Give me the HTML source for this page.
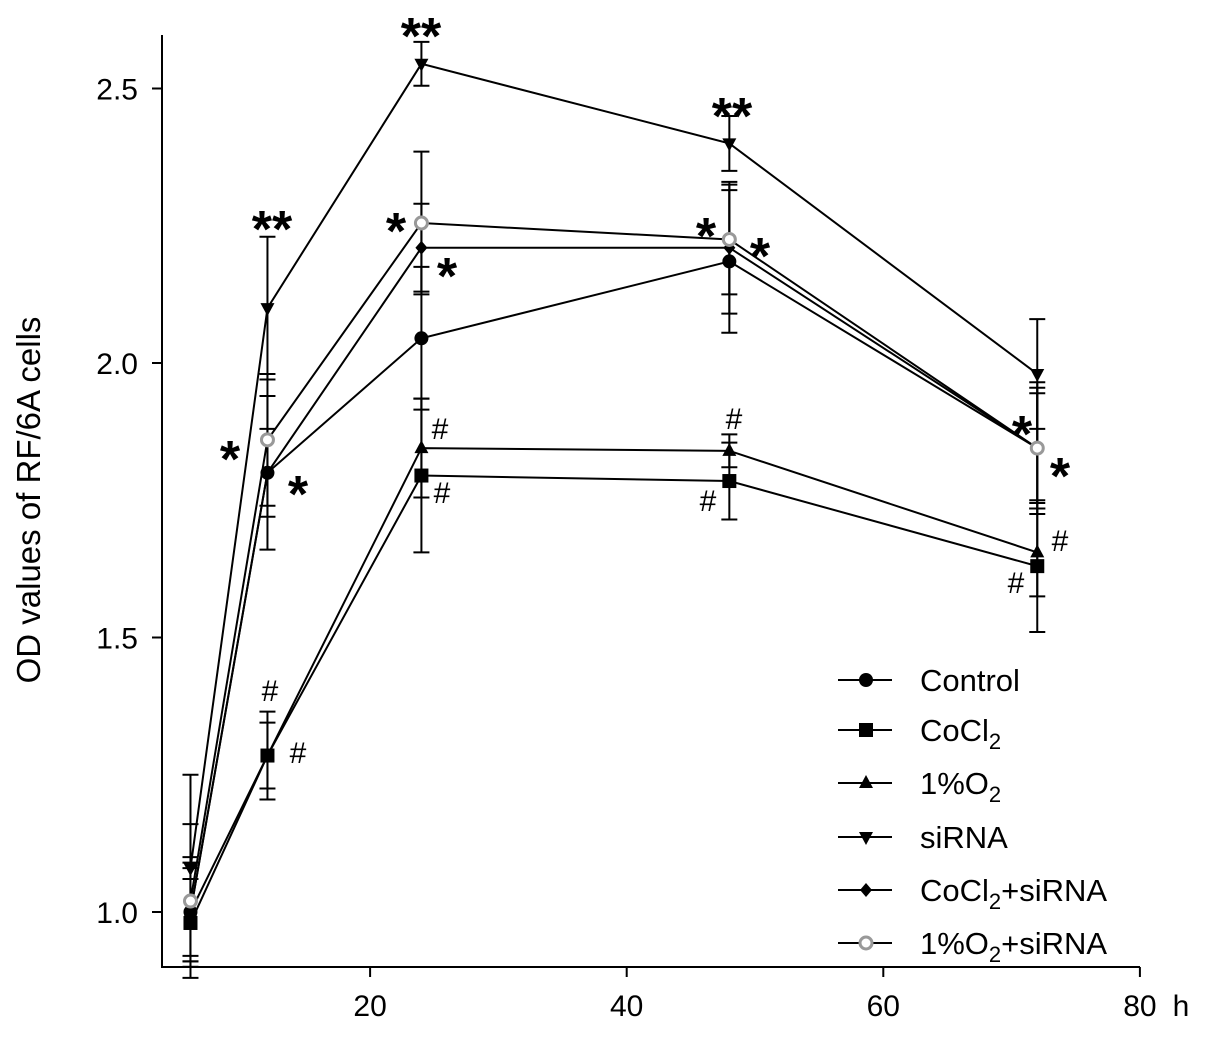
<!DOCTYPE html>
<html><head><meta charset="utf-8"><style>
body{margin:0;background:#fff;}
svg text{font-family:"Liberation Sans",sans-serif;}
</style></head><body>
<svg id="chart" width="1205" height="1036" viewBox="0 0 1205 1036">
<g id="axes"></g><g id="series"></g><g id="annot"></g><g id="legend"></g>
<text x="40" y="500" font-size="33" text-anchor="middle" transform="rotate(-90 40 500)">OD values of RF/6A cells</text>
<text x="1181" y="1016" font-size="30" text-anchor="middle">h</text>
</svg>
<script>
const hours = [6, 12, 24, 48, 72];
const seriesNames = ["Control", "CoCl2", "1%O2", "siRNA", "CoCl2+siRNA", "1%O2+siRNA"];
const controlVals = [1.00, 1.80, 2.045, 2.185, 1.845];
const cocl2Vals = [0.98, 1.285, 1.795, 1.785, 1.63];
const o2Vals = [1.00, 1.285, 1.845, 1.84, 1.655];
const sirnaVals = [1.08, 2.10, 2.545, 2.40, 1.98];
const cocl2SiVals = [1.00, 1.80, 2.21, 2.21, 1.845];
const o2SiVals = [1.02, 1.86, 2.255, 2.225, 1.845];
const controlErr = [0.09, 0.14, 0.13, 0.13, 0.10];
const cocl2Err = [0.08, 0.06, 0.14, 0.07, 0.12];
const o2Err = [0.08, 0.08, 0.09, 0.03, 0.08];
const sirnaErr = [0.17, 0.13, 0.04, 0.05, 0.10];
const cocl2SiErr = [0.10, 0.08, 0.08, 0.12, 0.11];
const o2SiErr = [0.14, 0.12, 0.13, 0.10, 0.12];
const xTicks = [20, 40, 60, 80];
const yTicks = [1.0, 1.5, 2.0, 2.5];

const NS = "http://www.w3.org/2000/svg";
const xs = v => 113.5 + v * 12.83;
const ys = v => 912 - (v - 1.0) * 549;
function mk(tag, attrs, parent){const e=document.createElementNS(NS,tag);for(const k in attrs)e.setAttribute(k,attrs[k]);parent.appendChild(e);return e;}
const axes=document.getElementById('axes');
const sg=document.getElementById('series');
const ann=document.getElementById('annot');
const lg=document.getElementById('legend');

let a=mk('line',{x1:162,y1:35,x2:162,y2:967,stroke:'#000','stroke-width':2},axes);


a=mk('line',{x1:161,y1:967,x2:1140,y2:967,stroke:'#000','stroke-width':2},axes);


yTicks.forEach(t=>{
  const y=ys(t);
  const l=mk('line',{x1:152,y1:y,x2:162,y2:y,stroke:'#000','stroke-width':2},axes);
  
  
  const tx=mk('text',{x:138,y:y+11,'font-size':30,'text-anchor':'end'},axes);
  tx.textContent=t.toFixed(1);
  
  
});
xTicks.forEach(t=>{
  const x=xs(t);
  const l=mk('line',{x1:x,y1:967,x2:x,y2:977,stroke:'#000','stroke-width':2},axes);
  
  
  const tx=mk('text',{x:x,y:1016,'font-size':30,'text-anchor':'middle'},axes);
  tx.textContent=t;
  
  
});

const allVals=[controlVals,cocl2Vals,o2Vals,sirnaVals,cocl2SiVals,o2SiVals];
const allErr=[controlErr,cocl2Err,o2Err,sirnaErr,cocl2SiErr,o2SiErr];
const markers=['circle','square','tri','tridown','diamond','ring'];
function marker(type,x,y,g){
  let e;
  if(type==='circle') e=mk('circle',{cx:x,cy:y,r:7,fill:'#000'},g);
  else if(type==='square') e=mk('rect',{x:x-7,y:y-7,width:14,height:14,fill:'#000'},g);
  else if(type==='tri') e=mk('polygon',{points:`${x},${y-8} ${x-7},${y+5} ${x+7},${y+5}`,fill:'#000'},g);
  else if(type==='tridown') e=mk('polygon',{points:`${x},${y+8} ${x-7},${y-5} ${x+7},${y-5}`,fill:'#000'},g);
  else if(type==='diamond') e=mk('polygon',{points:`${x},${y-7} ${x+6},${y} ${x},${y+7} ${x-6},${y}`,fill:'#000'},g);
  else e=mk('circle',{cx:x,cy:y,r:6,fill:'#fff',stroke:'#999','stroke-width':3},g);
  return e;
}
allVals.forEach((vals,si)=>{
  const g=mk('g',{},sg);
  
  
  const pts=vals.map((v,i)=>xs(hours[i])+','+ys(v)).join(' ');
  const pl=mk('polyline',{points:pts,fill:'none',stroke:'#000','stroke-width':2},g);
  
  
  vals.forEach((v,i)=>{
    const x=xs(hours[i]),e=allErr[si][i];
    const y1=ys(v+e),y2=ys(v-e);
    const eb=mk('path',{d:`M${x},${y1}V${y2}M${x-8},${y1}H${x+8}M${x-8},${y2}H${x+8}`,stroke:'#000','stroke-width':2,fill:'none'},g);
    
    
  });
  vals.forEach((v,i)=>{
    const m=marker(markers[si],xs(hours[i]),ys(v),g);
    
    
  });
});

// annotations: [text, centerX, centerY, size]
const annots=[
 ['**',272,215,52],['**',421,22,52],['**',732,102,52],
 ['*',230,445,52],['*',298,480,52],['*',396,217,52],['*',447,262,52],
 ['*',706,222,52],['*',760,242,52],['*',1022,420,52],['*',1060,462,52],
 ['#',270,690,30],['#',298,752,30],['#',440,428,30],['#',442,492,30],
 ['#',734,418,30],['#',708,500,30],['#',1060,540,30],['#',1016,582,30]
];
annots.forEach(([t,x,y,s])=>{
  const off = t==='#' ? 0.36*s : 0.62*s;
  const e=mk('text',{x:x,y:y+off,'font-size':s,'text-anchor':'middle','font-weight':t==='#'?'normal':'bold'},ann);
  e.textContent=t;
  
  
});

// legend
const legLabels=['Control','CoCl<tspan font-size="22" dy="8">2</tspan>','1%O<tspan font-size="22" dy="8">2</tspan>','siRNA','CoCl<tspan font-size="22" dy="8">2</tspan><tspan dy="-8">+siRNA</tspan>','1%O<tspan font-size="22" dy="8">2</tspan><tspan dy="-8">+siRNA</tspan>'];
const legY=[680,730,783,837,890,943];
legLabels.forEach((lab,i)=>{
  const g=mk('g',{},lg);
  
  
  mk('line',{x1:838,y1:legY[i],x2:892,y2:legY[i],stroke:'#000','stroke-width':2},g);
  marker(markers[i],866,legY[i],g);
  const t=mk('text',{x:920,y:legY[i]+11,'font-size':31},g);
  t.innerHTML=lab;
});
</script>
</body></html>
